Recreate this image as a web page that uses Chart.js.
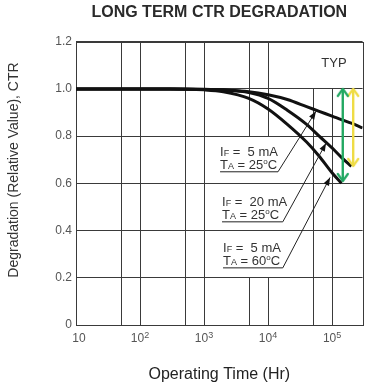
<!DOCTYPE html>
<html lang="en">
<head>
<meta charset="UTF-8" />
<title>Long Term CTR Degradation</title>
<script src="https://cdn.jsdelivr.net/npm/chart.js"></script>
<style>
  html, body { margin: 0; padding: 0; background: #fff; }
  #chart { display: block; }
</style>
</head>
<body>
<canvas id="chart" width="372" height="390"></canvas>
<script>
const hours = [10, 100, 300, 1000, 2000, 5000, 10000, 20000, 40000, 63000, 100000, 140000, 200000, 300000];
// relative CTR for each test condition
const ctr5mA25C = [1.0, 1.0, 1.0, 0.998, 0.995, 0.988, 0.975, 0.955, 0.925, 0.905, 0.885, 0.87, 0.855, 0.835];
const ctr20mA25C = [1.0, 1.0, 1.0, 0.999, 0.996, 0.985, 0.96, 0.91, 0.85, 0.8, 0.75, 0.71, 0.672, null];
const ctr5mA60C = [1.0, 1.0, 1.0, 0.996, 0.988, 0.96, 0.915, 0.85, 0.775, 0.715, 0.645, 0.6, null, null];

// typical spread arrows (green / yellow)
const spreadHours = [147000, 214000];
const spreadTop = [1.0, 1.0];
const spreadBottom = [0.61, 0.674];

// condition notes
const noteCurrent = ["5 mA", "20 mA", "5 mA"];
const noteTemp = ["25", "25", "60"];
const noteStartHr = [1780, 1910, 1980];
const noteEndHr = [14300, 17000, 17000];
const noteLineVal = [0.649, 0.437, 0.242];
const noteTipHr = [56000, 80500, 93000];
const noteTipVal = [0.905, 0.77, 0.625];

// axes
const xTickHours = [10, 100, 1000, 10000, 100000];
const xTickExp = ["", "2", "3", "4", "5"];
const gridHours = [50, 100, 500, 1000, 5000, 10000, 50000, 100000];
const gridSpans = [
  [[0, 1.2]], [[0, 1.2]], [[0, 1.2]], [[0, 1.2]],
  [[0, 0.2], [0.8, 1.2]], [[0, 0.2], [0.8, 1.2]],
  [[0, 1.0]], [[0, 1.0]]
];

const FONT = "'Liberation Sans', Arial, sans-serif";
Chart.defaults.font.family = FONT;

function chevron(up, color) {
  const c = document.createElement("canvas");
  c.width = 14; c.height = 18;
  const g = c.getContext("2d");
  g.strokeStyle = color; g.lineWidth = 2.2; g.lineCap = "round"; g.lineJoin = "round";
  g.beginPath();
  if (up) { g.moveTo(2, 16); g.lineTo(7, 9); g.lineTo(12, 16); }
  else { g.moveTo(2, 2); g.lineTo(7, 9); g.lineTo(12, 2); }
  g.stroke();
  return c;
}

const spreadColors = ["#22a862", "#efdc45"];

function spreadSet(i) {
  return {
    data: [{ x: spreadHours[i], y: spreadTop[i] }, { x: spreadHours[i], y: spreadBottom[i] }],
    borderColor: spreadColors[i],
    borderWidth: 2.4,
    pointStyle: [chevron(true, spreadColors[i]), chevron(false, spreadColors[i])],
    pointRadius: 7,
  };
}

function curveSet(values) {
  return {
    data: hours.map((h, i) => ({ x: h, y: values[i] })),
    borderColor: "#111",
    borderWidth: 3,
    pointRadius: 0,
    cubicInterpolationMode: "monotone",
  };
}

function rich(ctx, parts, x, y) {
  for (const [txt, size, dy] of parts) {
    ctx.font = size + "px " + FONT;
    ctx.fillText(txt, x, y + dy);
    x += ctx.measureText(txt).width;
  }
}

const extras = {
  id: "extras",
  beforeDatasetsDraw(chart) {
    const { ctx, chartArea: a, scales: { x, y } } = chart;
    ctx.save();
    ctx.strokeStyle = "#3a3a3a";
    ctx.lineWidth = 1;
    gridHours.forEach((h, i) => {
      const px = Math.round(x.getPixelForValue(h)) + 0.5;
      gridSpans[i].forEach(([v0, v1]) => {
        ctx.beginPath();
        ctx.moveTo(px, y.getPixelForValue(v0));
        ctx.lineTo(px, y.getPixelForValue(v1));
        ctx.stroke();
      });
    });
    ctx.strokeRect(Math.round(a.left) + 0.5, Math.round(a.top) + 0.5,
      Math.round(a.right - a.left), Math.round(a.bottom - a.top));
    ctx.restore();
  },
  afterDatasetsDraw(chart) {
    const { ctx, chartArea: a, scales: { x, y } } = chart;
    ctx.save();
    ctx.fillStyle = "#333";
    ctx.strokeStyle = "#222";
    ctx.textBaseline = "alphabetic";
    ctx.textAlign = "left";

    // notes with pointer arrows
    noteCurrent.forEach((cur, i) => {
      const x0 = x.getPixelForValue(noteStartHr[i]);
      const x1 = x.getPixelForValue(noteEndHr[i]);
      const yl = y.getPixelForValue(noteLineVal[i]);
      const xt = x.getPixelForValue(noteTipHr[i]);
      const yt = y.getPixelForValue(noteTipVal[i]);
      rich(ctx, [["I", 13, 0], ["F", 9, 0], [" =  " + cur, 13, 0]], x0, yl - 16);
      rich(ctx, [["T", 13, 0], ["A", 9, 0], [" = " + noteTemp[i], 13, 0], ["o", 8, -5], ["C", 13, 0]], x0, yl - 2.5);
      ctx.lineWidth = 1;
      ctx.beginPath();
      ctx.moveTo(x0, yl); ctx.lineTo(x1, yl); ctx.lineTo(xt, yt);
      ctx.stroke();
      const ang = Math.atan2(yt - yl, xt - x1);
      ctx.beginPath();
      ctx.moveTo(xt, yt);
      ctx.lineTo(xt - 8 * Math.cos(ang) + 3 * Math.sin(ang), yt - 8 * Math.sin(ang) - 3 * Math.cos(ang));
      ctx.lineTo(xt - 8 * Math.cos(ang) - 3 * Math.sin(ang), yt - 8 * Math.sin(ang) + 3 * Math.cos(ang));
      ctx.closePath();
      ctx.fillStyle = "#111";
      ctx.fill();
      ctx.fillStyle = "#333";
    });

    // TYP
    ctx.font = "13px " + FONT;
    ctx.textAlign = "center";
    ctx.textBaseline = "middle";
    ctx.fillText("TYP", 334, 63);

    // x tick labels with exponents
    ctx.fillStyle = "#555";
    ctx.textBaseline = "alphabetic";
    ctx.textAlign = "left";
    xTickHours.forEach((h, i) => {
      ctx.font = "12px " + FONT;
      const wb = ctx.measureText("10").width;
      ctx.font = "9px " + FONT;
      const we = xTickExp[i] ? ctx.measureText(xTickExp[i]).width : 0;
      let px = x.getPixelForValue(h) - (wb + we) / 2 + (i === 0 ? 3 : 0);
      rich(ctx, [["10", 12, 0], [xTickExp[i], 9, -4]], px, a.bottom + 17);
    });

    // y axis title
    ctx.fillStyle = "#333";
    ctx.font = "14px " + FONT;
    ctx.textAlign = "center";
    ctx.textBaseline = "middle";
    ctx.translate(14, 170);
    ctx.rotate(-Math.PI / 2);
    ctx.fillText("Degradation (Relative Value), CTR", 0, 0);
    ctx.restore();
  }
};

new Chart(document.getElementById("chart"), {
  type: "line",
  data: {
    datasets: [spreadSet(0), spreadSet(1), curveSet(ctr5mA25C), curveSet(ctr20mA25C), curveSet(ctr5mA60C)],
  },
  plugins: [extras],
  options: {
    responsive: false,
    animation: false,
    layout: { padding: { right: 9 } },
    plugins: {
      legend: { display: false },
      tooltip: { enabled: false },
      title: {
        display: true,
        text: "LONG TERM CTR DEGRADATION",
        fullSize: false,
        color: "#2a2a2a",
        font: { size: 16, weight: "bold" },
        padding: { top: 3, bottom: 19.5 },
      },
    },
    scales: {
      x: {
        type: "logarithmic",
        min: 10,
        max: 300000,
        grid: { display: false },
        border: { display: false },
        ticks: { display: false },
        title: {
          display: true,
          text: "Operating Time (Hr)",
          color: "#222",
          font: { size: 16 },
          padding: { top: 0, bottom: 6 },
        },
        afterFit: (s) => { s.height = 65; },
      },
      y: {
        min: 0,
        max: 1.2,
        grid: { color: "#3a3a3a", lineWidth: 1, drawTicks: false },
        border: { display: false },
        ticks: {
          stepSize: 0.2,
          padding: 4,
          color: "#555",
          font: { size: 12 },
          callback: (v) => (v === 0 ? "0" : v.toFixed(1)),
        },
        afterFit: (s) => { s.width = 76; },
      },
    },
  },
});
</script>
</body>
</html>
